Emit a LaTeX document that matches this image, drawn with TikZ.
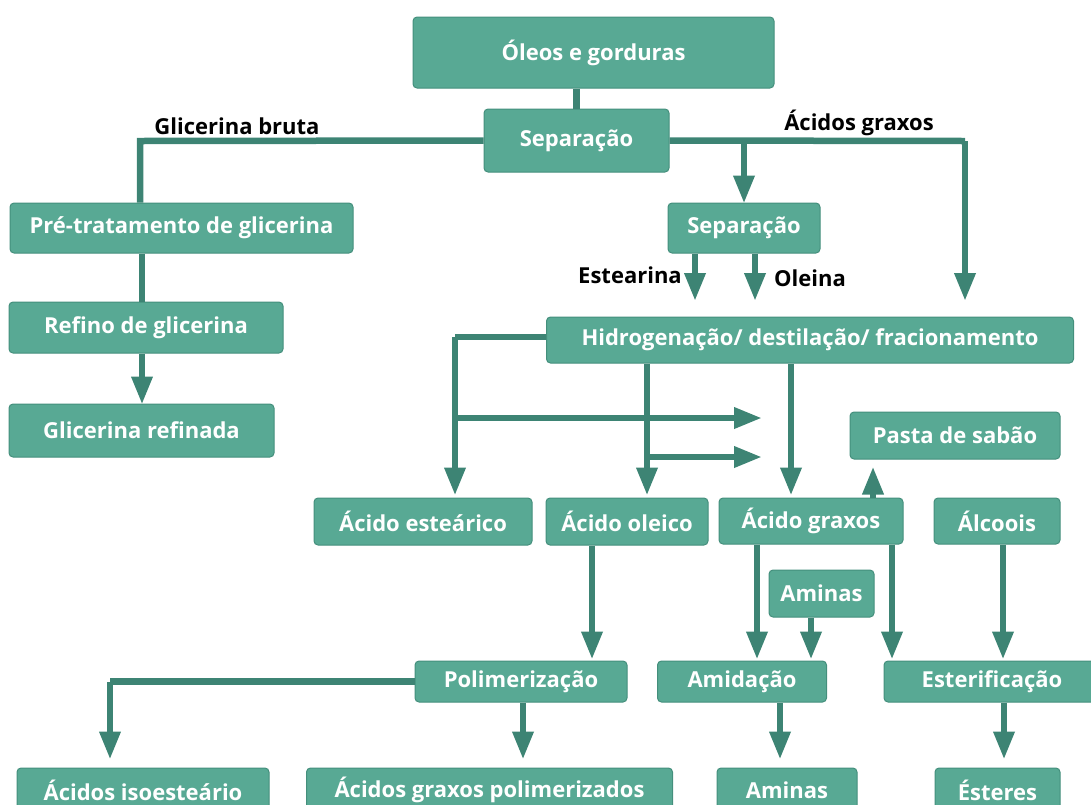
\documentclass[tikz,border=0pt]{standalone}
\usepackage{fontspec}
\setmainfont{Open Sans}
\usetikzlibrary{arrows.meta}
\definecolor{boxfill}{RGB}{88,169,148}
\definecolor{boxline}{RGB}{68,143,124}
\definecolor{flowline}{RGB}{61,132,116}

\begin{document}
\begin{tikzpicture}[x=1pt,y=-1pt,
    box/.style={draw=boxline, line width=1pt, fill=boxfill, rounded corners=4pt,
        text=white, font=\bfseries\fontsize{22}{26}\selectfont, inner sep=0pt},
    tag/.style={font=\bfseries\fontsize{22}{26}\selectfont, text=black, inner sep=0pt},
    conn/.style={draw=flowline, line width=6.5pt},
    conna/.style={conn, -{Triangle[length=28pt,width=20pt]}}]
        \useasboundingbox (0,0) rectangle (1091,804);

        % Top of the chain
        \node[box, minimum width=361pt, minimum height=71pt] (oleos) at (593.5,52.5) {Óleos e gorduras};
        \node[box, minimum width=185pt, minimum height=63pt] (sep1) at (576.5,140.5) {Separação};
        \node[tag] (lglic) at (237,126) {Glicerina bruta};
        \node[tag] (lacid) at (859,123) {Ácidos graxos};

        % Glycerine branch
        \node[box, minimum width=343pt, minimum height=50pt] (pretrat) at (181.5,228) {Pré-tratamento de glicerina};
        \node[box, minimum width=274pt, minimum height=51pt] (refino) at (146,327.5) {Refino de glicerina};
        \node[box, minimum width=265pt, minimum height=53pt] (glref) at (141.5,430.5) {Glicerina refinada};

        % Fatty acid branch
        \node[box, minimum width=152pt, minimum height=50pt] (sep2) at (744,228) {Separação};
        \node[tag] (lestea) at (630,275) {Estearina};
        \node[tag] (lolei) at (810,278) {Oleina};
        \node[box, minimum width=527pt, minimum height=46pt] (hidro) at (810,340) {Hidrogenação/ destilação/ fracionamento};

        \node[box, minimum width=210pt, minimum height=47pt] (pasta) at (955,435.5) {Pasta de sabão};
        \node[box, minimum width=218pt, minimum height=47pt] (estear) at (423,521.5) {Ácido esteárico};
        \node[box, minimum width=162pt, minimum height=47pt] (oleico) at (627,521.5) {Ácido oleico};
        \node[box, minimum width=184pt, minimum height=46pt] (graxos) at (811,521) {Ácido graxos};
        \node[box, minimum width=126pt, minimum height=46pt] (alcool) at (997,521) {Álcoois};
        \node[box, minimum width=105pt, minimum height=47pt] (aminas) at (821.5,593.5) {Aminas};

        \node[box, minimum width=212pt, minimum height=41pt] (polim) at (521,681.5) {Polimerização};
        \node[box, minimum width=169pt, minimum height=41pt] (amid) at (742,681.5) {Amidação};
        \node[box, minimum width=216pt, minimum height=41pt] (ester) at (992,681.5) {Esterificação};

        \node[box, minimum width=252pt, minimum height=44pt] (isoest) at (143,790) {Ácidos isoesteário};
        \node[box, minimum width=366pt, minimum height=44pt] (polgrax) at (489.5,790) {Ácidos graxos polimerizados};
        \node[box, minimum width=140pt, minimum height=44pt] (amout) at (787,790) {Aminas};
        \node[box, minimum width=125pt, minimum height=44pt] (ester2) at (997.5,790) {Ésteres};

        % Free ends and corners
        \coordinate (glic) at (140,141);
        \coordinate (acid) at (965,141);
        \coordinate (acidend) at (965,301);
        \coordinate (esteaend) at (695,301);
        \coordinate (oleiend) at (755,301);
        \coordinate (hleft) at (455,337);
        \coordinate (arr1) at (762,418);
        \coordinate (arr2) at (762,457);
        \coordinate (pleft) at (110,681.5);

        % Connectors at the top
        \draw[conn] (oleos.south -| sep1.north) -- (sep1.north);
        \draw[conn] (sep1.west) -- (glic) -- (glic |- pretrat.north);
        \draw[conn] (sep1.east) -- (acid);
        \draw[conna] (acid) -- (acidend);
        \draw[conna] (sep1.east -| sep2.north) -- ([yshift=-1pt]sep2.north);
        \draw[conna] (esteaend |- sep2.south) -- (esteaend);
        \draw[conna] (oleiend |- sep2.south) -- (oleiend);

        % Glycerine chain
        \draw[conn] (pretrat.south -| 142,0) -- (refino.north -| 142,0);
        \draw[conna, shorten >=-1pt] (refino.south -| 142,0) -- (glref.north -| 142,0);

        % From the hydrogenation box
        \draw[conn] (hidro.west |- hleft) -- (hleft);
        \draw[conna, shorten >=2pt] (hleft) -- (hleft |- estear.north);
        \draw[conna] (hleft |- arr1) -- (arr1);
        \draw[conna, shorten >=2pt] (hidro.south -| 647,0) -- (estear.north -| 647,0);
        \draw[conna] (647,457) -- (arr2);
        \draw[conna, shorten >=2pt] (hidro.south -| 791,0) -- (graxos.north -| 791,0);
        \draw[conna, shorten >=7pt] (graxos.north -| 873,0) -- (pasta.south -| 873,0);

        % Down to the reactions
        \draw[conna, shorten >=1pt] (oleico.south -| 592,0) -- (polim.north -| 592,0);
        \draw[conna, shorten >=1pt] (graxos.south -| 757,0) -- (amid.north -| 757,0);
        \draw[conna, shorten >=1pt] (aminas.south -| 811,0) -- (amid.north -| 811,0);
        \draw[conna, shorten >=1pt] (graxos.south -| 892,0) -- (ester.north -| 892,0);
        \draw[conna, shorten >=1pt] (alcool.south -| 1003,0) -- (ester.north -| 1003,0);

        % Products
        \draw[conn] (polim.west) -- (pleft);
        \draw[conna, shorten >=8pt] (pleft) -- (pleft |- isoest.north);
        \draw[conna, shorten >=8pt] (polim.south -| 523,0) -- (polgrax.north -| 523,0);
        \draw[conna, shorten >=8pt] (amid.south -| 780,0) -- (amout.north -| 780,0);
        \draw[conna, shorten >=8pt] (ester.south -| 1004,0) -- (ester2.north -| 1004,0);
\end{tikzpicture}
\end{document}
